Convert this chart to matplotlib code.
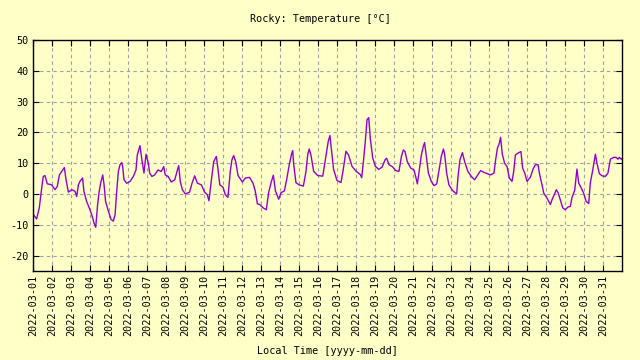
import numpy as np
import matplotlib
matplotlib.use('agg')
import matplotlib.pyplot as plt

# time in days since 2022-03-01 00:00, temperature in degC
days = [0.00, 0.19, 0.33, 0.46, 0.54, 0.63, 0.75, 0.98, 1.16, 1.28, 1.39, 1.51, 1.65, 1.74, 1.86,
        2.04, 2.21, 2.30, 2.39, 2.47, 2.61, 2.68, 2.82, 2.96, 3.09, 3.21, 3.30, 3.40, 3.47, 3.56,
        3.67, 3.74, 3.82, 3.96, 4.11, 4.23, 4.32, 4.40, 4.49, 4.58, 4.67, 4.72, 4.79, 4.93, 5.11,
        5.28, 5.42, 5.49, 5.63, 5.72, 5.84, 5.95, 6.07, 6.14, 6.26, 6.40, 6.58, 6.75, 6.88, 6.96,
        7.11, 7.28, 7.46, 7.60, 7.67, 7.75, 7.86, 8.02, 8.24, 8.37, 8.51, 8.65, 8.86, 9.03, 9.17,
        9.26, 9.39, 9.51, 9.65, 9.74, 9.83, 10.00, 10.12, 10.26, 10.39, 10.47, 10.56, 10.67, 10.79,
        11.02, 11.18, 11.40, 11.58, 11.70, 11.81, 11.93, 12.11, 12.28, 12.40, 12.53, 12.65, 12.76,
        12.93, 13.05, 13.23, 13.35, 13.49, 13.61, 13.67, 13.72, 13.84, 14.02, 14.23, 14.37, 14.46,
        14.54, 14.63, 14.77, 14.98, 15.25, 15.42, 15.54, 15.63, 15.68, 15.82, 16.00, 16.21, 16.33,
        16.47, 16.61, 16.79, 17.00, 17.23, 17.30, 17.40, 17.49, 17.58, 17.67, 17.75, 17.88, 18.02,
        18.19, 18.37, 18.54, 18.61, 18.74, 18.91, 19.09, 19.26, 19.39, 19.49, 19.58, 19.70, 19.88,
        20.05, 20.14, 20.23, 20.32, 20.44, 20.54, 20.61, 20.70, 20.81, 20.96, 21.11, 21.25, 21.37,
        21.49, 21.60, 21.67, 21.77, 21.89, 22.07, 22.24, 22.30, 22.37, 22.47, 22.60, 22.72, 22.89,
        23.07, 23.24, 23.38, 23.56, 23.74, 23.91, 24.09, 24.26, 24.35, 24.44, 24.53, 24.61, 24.70,
        24.82, 24.95, 25.07, 25.21, 25.30, 25.39, 25.51, 25.68, 25.77, 25.88, 26.00, 26.18, 26.32,
        26.44, 26.58, 26.67, 26.79, 26.88, 27.05, 27.23, 27.32, 27.46, 27.54, 27.63, 27.75, 27.88,
        28.02, 28.14, 28.28, 28.37, 28.51, 28.63, 28.72, 28.86, 28.98, 29.11, 29.25, 29.33, 29.46,
        29.60, 29.68, 29.81, 29.95, 30.12, 30.26, 30.39, 30.56, 30.68, 30.79, 30.86, 30.96, 31.00]
temps = [-6.5, -8.1, -4.5, 2.0, 5.7, 6.0, 3.3, 3.0, 1.4, 2.5, 6.2, 7.3, 8.6, 4.6, 0.6,
         1.4, 0.9, -0.8, 3.0, 4.1, 5.2, 0.9, -2.4, -4.5, -6.7, -9.4, -10.8, -3.5, 0.3, 3.5,
         6.2, 3.0, -2.4, -5.4, -8.3, -8.8, -6.7, 0.3, 7.3, 9.5, 10.2, 8.9, 4.6, 3.5, 4.1,
         5.7, 7.8, 12.7, 15.7, 11.6, 6.8, 12.9, 10.0, 6.8, 5.7, 6.2, 7.8, 7.3, 8.9, 6.2,
         5.7, 3.9, 4.6, 7.8, 9.2, 4.1, 1.4, 0.0, 0.6, 3.5, 5.9, 3.5, 3.0, 0.6, -0.2,
         -2.2, 4.6, 10.5, 12.2, 7.8, 3.0, 2.2, -0.2, -1.1, 7.8, 11.1, 12.5, 10.5, 6.0,
         3.9, 5.2, 5.4, 3.5, 0.9, -3.2, -3.4, -4.5, -5.1, 0.4, 3.7, 6.1, 1.0,
         -1.7, 0.4, 1.0, 4.7, 9.6, 13.0, 14.1, 9.6, 3.7, 2.9, 2.6, 7.4, 12.8,
         14.6, 12.6, 7.4, 6.0, 5.8, 12.3, 17.1, 19.0, 16.0, 8.0, 4.4, 3.7, 8.0,
         13.9, 12.6, 9.0, 7.4, 6.3, 5.3, 11.2, 17.1, 24.1, 24.8, 18.2, 11.7, 9.0,
         8.0, 8.7, 11.2, 11.6, 9.5, 8.9, 7.6, 7.3, 12.2, 14.3, 13.8, 10.5, 8.4,
         7.8, 5.7, 3.3, 7.3, 12.7, 15.4, 16.7, 12.2, 6.8, 4.1, 2.7, 3.3, 7.8,
         12.2, 14.6, 12.7, 6.8, 3.0, 1.2, 0.3, 0.1, 5.7, 11.1, 13.4, 10.5, 7.3,
         5.7, 4.6, 5.9, 7.6, 7.0, 6.6, 6.2, 6.8, 11.1, 14.8, 16.2, 18.4, 12.9,
         10.0, 8.9, 5.2, 4.1, 7.3, 12.7, 13.2, 13.8, 8.4, 6.8, 4.1, 5.5, 8.1,
         9.5, 9.5, 6.2, 3.0, 0.3, -1.3, -3.4, -1.8, 0.1, 1.4, 0.5, -1.8, -4.5,
         -5.1, -4.3, -4.0, -1.1, 1.2, 8.1, 3.5, 1.9, 0.3, -2.4, -3.1, 3.5, 7.8,
         12.9, 10.0, 6.6, 5.9, 5.7, 6.8, 11.3, 11.9, 11.9, 11.3, 11.9, 11.3, 11.5]

tick_days = list(range(31))
tick_labels = ['2022-03-%02d' % (d + 1) for d in tick_days]
y_ticks = [-20, -10, 0, 10, 20, 30, 40, 50]

bg = '#ffffc8'
mono = ['DejaVu Sans Mono']

fig = plt.figure(figsize=(6.4, 3.6), dpi=100, facecolor=bg)
ax = fig.add_axes([33/640, 1 - 271/360, (622 - 33)/640, (271 - 40)/360])
ax.set_facecolor(bg)

ax.plot(days, temps, color='#9400d3', lw=1.0)

ax.set_xlim(0, 31)
ax.set_ylim(-25, 50)
ax.set_xticks(tick_days)
ax.set_xticklabels(tick_labels, rotation=90, family=mono, fontsize=7.3)
ax.set_yticks(y_ticks)
ax.set_yticklabels([str(v) for v in y_ticks], family=mono, fontsize=7.3)
ax.tick_params(direction='in', length=4, width=0.8, top=True, right=True, pad=3)
ax.grid(True, color='#a0a0a0', ls=(0, (3, 3)), lw=0.8)
for s in ax.spines.values():
    s.set_linewidth(1.0)

fig.text(0.5, 1 - 19/360, 'Rocky: Temperature [°C]', ha='center', va='center', family=mono, fontsize=7.3)
fig.text((33 + 622)/2/640, 1 - 351/360, 'Local Time [yyyy-mm-dd]', ha='center', va='center', family=mono, fontsize=7.3)

fig.savefig('out.png', dpi=100, facecolor=bg)
